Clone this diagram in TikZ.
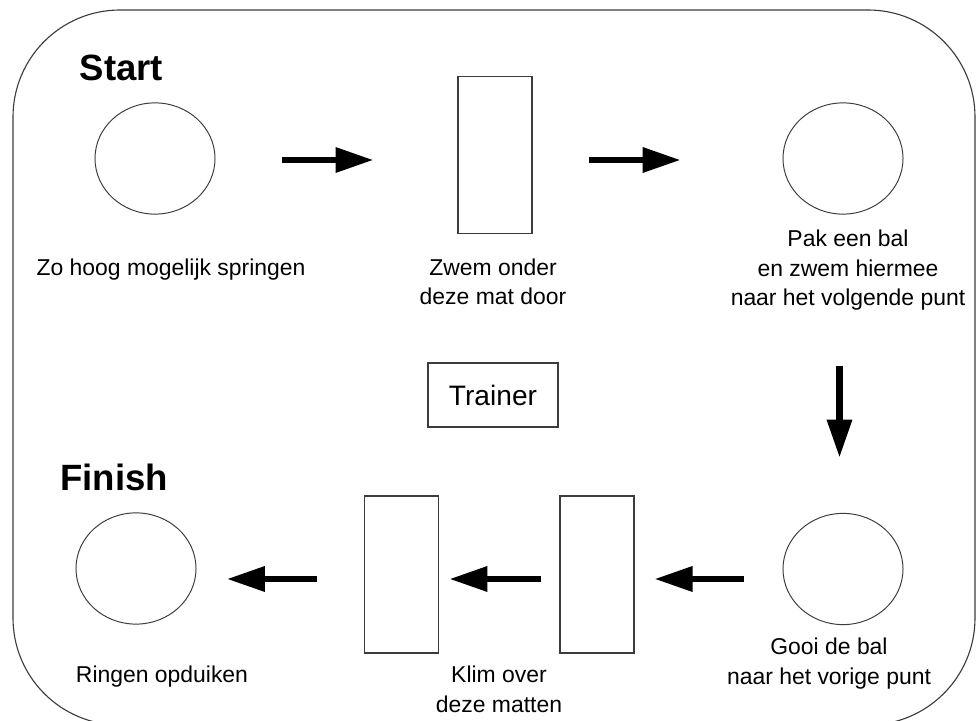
\documentclass[tikz,border=0pt]{standalone}
\usepackage{fontspec}
\setmainfont{Liberation Sans}
\usetikzlibrary{shapes.geometric,arrows.meta}
\definecolor{lijngrijs}{RGB}{60,60,60}

\begin{document}
\begin{tikzpicture}[x=0.025cm, y=-0.025cm,
    hoepel/.style={draw=lijngrijs, line width=0.7pt, ellipse, minimum width=3cm, minimum height=2.78cm, inner sep=0pt},
    mat/.style={draw=lijngrijs, line width=0.9pt, minimum width=1.85cm, minimum height=3.92cm, inner sep=0pt},
    uitleg/.style={align=center, anchor=base, font=\fontsize{16.3}{21}\selectfont},
    kop/.style={font=\fontsize{26}{30}\selectfont\bfseries},
    pijl/.style={line width=4.6pt, -{Triangle[length=0.95cm,width=0.6cm]}}]
    \useasboundingbox (0,0) rectangle (976,721);

    % Bad (rand)
    \draw[lijngrijs, line width=0.8pt, rounded corners=2.675cm] (13,10) rectangle (975,725);

    % Bovenste rij
    \node[kop] (start) at (121.5,67.5) {Start};
    \node[hoepel] (c1) at (155,158.5) {};
    \node[mat] (m1) at (495,155) {};
    \node[hoepel] (c2) at (843,158.5) {};
    \node[uitleg] (t1) at (171,276) {Zo hoog mogelijk springen};
    \node[uitleg] (t2) at (493,305) {Zwem onder\\deze mat door};
    \node[uitleg] (t3) at (848,306) {Pak een bal\\en zwem hiermee\\naar het volgende punt};

    % Trainer
    \node[draw=lijngrijs, line width=0.8pt, minimum width=3.25cm, minimum height=1.6cm, font=\fontsize{20}{24}\selectfont] (trainer) at (493,395) {Trainer};

    % Onderste rij
    \node[kop] (finish) at (114,477) {Finish};
    \node[hoepel] (c3) at (136,568.5) {};
    \node[mat] (m2) at (401.5,574.5) {};
    \node[mat] (m3) at (597,574.5) {};
    \node[hoepel] (c4) at (843,569) {};
    \node[uitleg] (t4) at (162,682) {Ringen opduiken};
    \node[uitleg] (t5) at (499,712) {Klim over\\deze matten};
    \node[uitleg] (t6) at (829,684) {Gooi de bal\\naar het vorige punt};

    % Pijlen
    \draw[pijl] ([shift={(66,1.5)}]c1.east) -- ++(92,0);
    \draw[pijl] ([shift={(56,5)}]m1.east) -- ++(92,0);
    \draw[pijl] ([shift={(-3.5,151)}]c2.south) -- ++(0,92);
    \draw[pijl] ([shift={(-38,10)}]c4.west) -- ++(-90,0);
    \draw[pijl] ([shift={(-18,4.5)}]m3.west) -- ++(-92,0);
    \draw[pijl] ([shift={(-47,4.5)}]m2.west) -- ++(-90,0);
\end{tikzpicture}
\end{document}
